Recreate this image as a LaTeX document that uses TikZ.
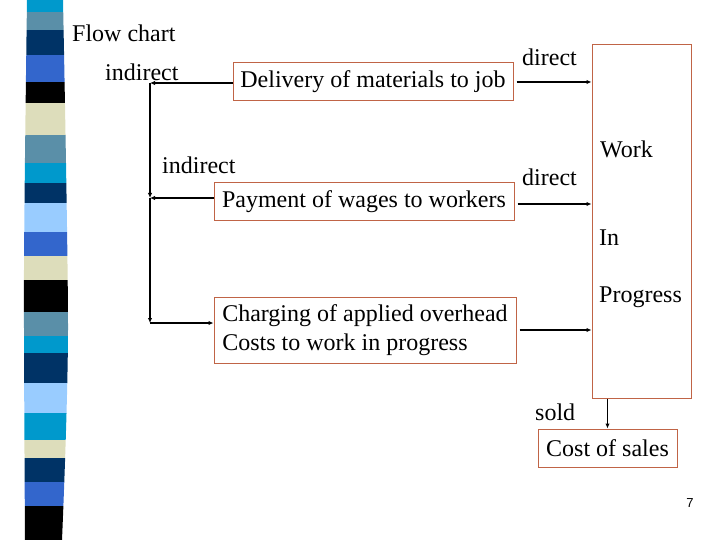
\documentclass[tikz,border=0pt]{standalone}
\usepackage{fontspec}
\setmainfont{Liberation Serif}
\setsansfont{Liberation Sans}
\usetikzlibrary{arrows.meta}

\definecolor{boxline}{RGB}{192,100,70}
\definecolor{cyanb}{RGB}{0,153,204}
\definecolor{grayb}{RGB}{90,143,168}
\definecolor{navyb}{RGB}{0,51,102}
\definecolor{royalb}{RGB}{51,102,204}
\definecolor{beigeb}{RGB}{221,221,187}
\definecolor{lightb}{RGB}{153,204,255}

\tikzset{
  costbox/.style={draw=boxline, line width=1pt, inner sep=0pt},
  lbl/.style={anchor=base west, inner sep=0pt},
  arr/.style={line width=1.5pt, -{Latex[length=5pt,width=4.5pt]}}
}

\begin{document}
\begin{tikzpicture}[x=1pt, y=-1pt, font=\fontsize{24}{29}\selectfont]
\useasboundingbox (0,0) rectangle (720,540);

% striped bar on the left
\begin{scope}
  \clip plot[smooth] coordinates {(27,0) (24,270) (25,540)}
     -- plot[smooth] coordinates {(62,540) (68,330) (63,0)} -- cycle;
  \foreach \a/\b/\c in {0/12/cyanb, 12/30/grayb, 30/55/navyb, 55/82/royalb,
      82/103/black, 103/135/beigeb, 135/163/grayb, 163/183/cyanb,
      183/203/navyb, 203/232/lightb, 232/256/royalb, 256/280/beigeb,
      280/312/black, 312/336/grayb, 336/353/cyanb, 353/383/navyb,
      383/413/lightb, 413/440/cyanb, 440/458/beigeb, 458/482/navyb,
      482/506/royalb, 506/540/black}
    \fill[\c] (20,\a) rectangle (72,\b);
\end{scope}

\node[lbl] (title) at (72,42) {Flow chart};

% boxes
\node[costbox, minimum width=280pt, minimum height=38pt] (deliv) at (373,82) {\raisebox{-2pt}{Delivery of materials to job}};
\node[costbox, minimum width=300pt, minimum height=38pt] (pay) at (364,202) {\raisebox{-2pt}{Payment of wages to workers}};
\node[costbox, minimum width=302pt, minimum height=66pt, align=left] (chg) at (365,330)
  {Charging of applied overhead\\Costs to work in progress};
\node[costbox, minimum width=99pt, minimum height=353pt] (wip) at (641.5,221.5) {};
\node[costbox, minimum width=139pt, minimum height=38pt] (cost) at (607.5,448) {\raisebox{-2pt}{Cost of sales}};

% text in work in progress
\node[lbl] (work) at (600,158) {Work};
\node[lbl] (in) at (599,245) {In};
\node[lbl] (prog) at (599,302) {Progress};

% labels
\node[lbl] (ind1) at (105,81) {indirect};
\node[lbl] (ind2) at (162,174) {indirect};
\node[lbl] (dir1) at (522,66) {direct};
\node[lbl] (dir2) at (522,186) {direct};
\node[lbl] (sold) at (535,420) {sold};

% indirect path
\coordinate (c1) at (150,83);
\coordinate (c2) at (150,198);
\coordinate (c3) at (150,323);
\draw[arr] (deliv.west |- c1) -- (c1);
\draw[arr] (c1) -- (c2);
\draw[arr] (c2) -- (c3);
\draw[arr] (pay.west |- c2) -- (c2);
\draw[arr] (c3) -- (c3 -| chg.west);

% direct path
\draw[arr] ([xshift=3pt]deliv.east) -- (deliv.east -| wip.west);
\draw[arr] ([xshift=3pt,yshift=-2pt]pay.east) -- ([yshift=-2pt]pay.east -| wip.west);
\draw[arr] ([xshift=3pt]chg.east) -- (chg.east -| wip.west);
\draw[arr] (cost.north |- wip.south) -- (cost.north);

\node[inner sep=0pt, font=\sffamily\fontsize{13}{15}\selectfont] (pg) at (690,503) {7};
\end{tikzpicture}
\end{document}
